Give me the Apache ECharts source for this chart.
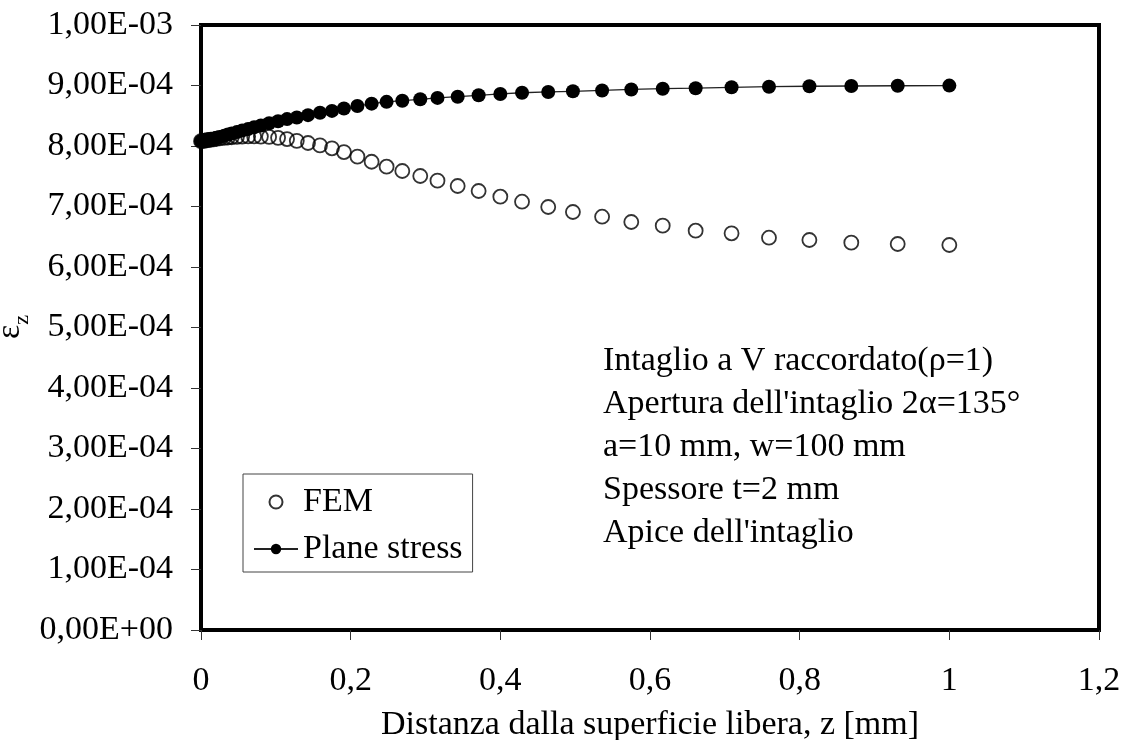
<!DOCTYPE html>
<html>
<head>
<meta charset="utf-8">
<script src="https://cdn.jsdelivr.net/npm/echarts@6/dist/echarts.min.js"></script>
<style>
html,body{margin:0;padding:0;background:#fff;}
#chart{width:1128px;height:740px;}
</style>
</head>
<body>
<div id="chart"></div>
<script>
// distance from free surface, z [mm]
const zValues = [0, 0.003, 0.005, 0.008, 0.011, 0.013, 0.017, 0.021, 0.025, 0.031, 0.036, 0.041, 0.048, 0.055, 0.063, 0.071, 0.080, 0.091, 0.103, 0.115, 0.128, 0.143, 0.159, 0.175, 0.191, 0.209, 0.228, 0.248, 0.269, 0.293, 0.316, 0.343, 0.371, 0.400, 0.429, 0.464, 0.497, 0.536, 0.575, 0.617, 0.661, 0.709, 0.759, 0.813, 0.869, 0.931, 1.0];
// FEM strain (x 1e-4)
const femValues = [8.08, 8.085, 8.09, 8.095, 8.10, 8.105, 8.11, 8.12, 8.125, 8.135, 8.14, 8.145, 8.15, 8.155, 8.158, 8.158, 8.155, 8.15, 8.135, 8.115, 8.085, 8.05, 8.01, 7.962, 7.90, 7.825, 7.74, 7.658, 7.587, 7.504, 7.427, 7.339, 7.256, 7.162, 7.079, 6.992, 6.909, 6.831, 6.744, 6.683, 6.60, 6.557, 6.484, 6.446, 6.402, 6.38, 6.364];
// Plane stress strain (x 1e-4)
const planeValues = [8.08, 8.085, 8.09, 8.095, 8.10, 8.11, 8.12, 8.135, 8.15, 8.17, 8.19, 8.205, 8.23, 8.255, 8.28, 8.31, 8.34, 8.375, 8.41, 8.445, 8.47, 8.51, 8.55, 8.58, 8.62, 8.66, 8.70, 8.73, 8.749, 8.772, 8.795, 8.815, 8.838, 8.86, 8.88, 8.893, 8.904, 8.918, 8.935, 8.947, 8.955, 8.97, 8.98, 8.988, 8.992, 8.996, 8.998];
const valueScale = 1e-4;
const seriesNames = ['FEM', 'Plane stress'];
const xAxisTitle = 'Distanza dalla superficie libera, z [mm]';
const yAxisTitle = '{e|ε}{s|z}';
const noteLines = ['Intaglio a V raccordato(ρ=1)', "Apertura dell'intaglio 2α=135°", 'a=10 mm, w=100 mm', 'Spessore t=2 mm', "Apice dell'intaglio"];

const FONT = '"Liberation Serif", "Times New Roman", serif';

function fmtY(v) {
  if (Math.abs(v) < 1e-12) return '0,00E+00';
  let e = Math.floor(Math.log10(Math.abs(v)) + 1e-9);
  let m = v / Math.pow(10, e);
  let ms = m.toFixed(2);
  if (parseFloat(ms) >= 10) { e += 1; ms = (v / Math.pow(10, e)).toFixed(2); }
  return ms.replace('.', ',') + 'E' + (e < 0 ? '-' : '+') + String(Math.abs(e)).padStart(2, '0');
}
function fmtX(v) {
  return String(parseFloat(v.toFixed(2))).replace('.', ',');
}

const femData = zValues.map((z, i) => [z, femValues[i] * valueScale]);
const planeData = zValues.map((z, i) => [z, planeValues[i] * valueScale]);

const chart = echarts.init(document.getElementById('chart'), null, {renderer: 'canvas'});
chart.setOption({
  backgroundColor: '#fff',
  animation: false,
  textStyle: {fontFamily: FONT},
  grid: {
    left: 201, right: 29, top: 25, bottom: 110,
    containLabel: false, outerBoundsMode: 'none',
    show: true, borderColor: '#000', borderWidth: 4, backgroundColor: 'transparent'
  },
  legend: {
    orient: 'vertical',
    left: 243, top: 474,
    padding: [11, 10, 6, 10],
    itemGap: 13,
    itemWidth: 44, itemHeight: 13,
    borderColor: '#444', borderWidth: 1,
    backgroundColor: '#fff',
    textStyle: {fontFamily: FONT, fontSize: 34, color: '#000'},
    data: seriesNames
  },
  xAxis: {
    type: 'value', min: 0, max: 1.2, interval: 0.2,
    name: xAxisTitle, nameLocation: 'middle', nameGap: 78,
    nameTextStyle: {fontFamily: FONT, fontSize: 34, color: '#000'},
    axisLine: {show: false},
    axisTick: {show: true, length: 10, lineStyle: {color: '#333', width: 1}},
    axisLabel: {fontFamily: FONT, fontSize: 34, color: '#000', margin: 34, formatter: fmtX},
    splitLine: {show: false}
  },
  yAxis: {
    type: 'value', min: 0, max: 0.001, interval: 0.0001,
    axisLine: {show: false},
    axisTick: {show: true, length: 10, lineStyle: {color: '#333', width: 1}},
    axisLabel: {fontFamily: FONT, fontSize: 34, color: '#000', margin: 28, formatter: fmtY},
    splitLine: {show: false}
  },
  series: [
    {
      name: seriesNames[0], type: 'scatter', data: femData,
      symbol: 'circle', symbolSize: 14,
      itemStyle: {color: 'rgba(255,255,255,0)', borderColor: '#000', borderWidth: 1.8},
      z: 2
    },
    {
      name: seriesNames[1], type: 'line', data: planeData,
      symbol: 'circle', symbolSize: 14, showSymbol: true, showAllSymbol: true,
      lineStyle: {color: '#222', width: 1.3},
      itemStyle: {color: '#000', borderColor: '#000', borderWidth: 0},
      z: 3
    }
  ],
  graphic: [
    {
      type: 'text', left: 603, top: 340,
      style: {
        text: noteLines.join('\n'),
        font: '34px ' + FONT,
        fill: '#000',
        lineHeight: 43
      }
    },
    {
      type: 'text', x: 33, y: 327, rotation: Math.PI / 2,
      style: {
        text: yAxisTitle,
        align: 'center', verticalAlign: 'bottom',
        fill: '#000',
        rich: {
          e: {fontFamily: FONT, fontSize: 34, fill: '#000', verticalAlign: 'bottom', padding: [0, 0, 6, 0]},
          s: {fontFamily: FONT, fontSize: 22, fill: '#000', verticalAlign: 'bottom'}
        }
      }
    }
  ]
});
</script>
</body>
</html>
